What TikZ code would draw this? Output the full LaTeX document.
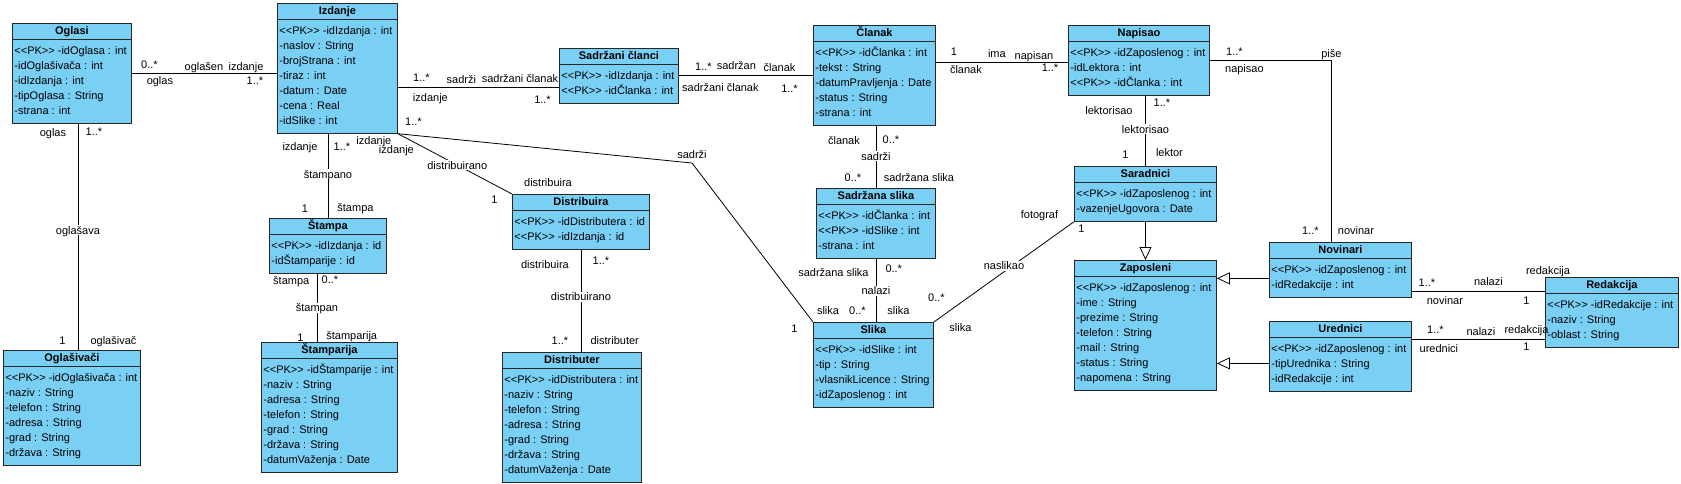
\documentclass[tikz,border=0pt]{standalone}
\usepackage{fontspec}
\usepackage{tikz}
\usetikzlibrary{arrows.meta, shapes.multipart}
\newfontfamily\umlfont{Liberation Sans}
\definecolor{clsblue}{RGB}{122,207,245}
\newcommand{\pk}{<\kern0pt<PK>\kern0pt>}
\newcommand{\ttl}[1]{\smash{\textbf{#1}}\rule{0pt}{7pt}}

\begin{document}
\begin{tikzpicture}[
        x=1pt, y=-1pt,
        font=\umlfont\fontsize{11}{15}\selectfont,
        cls/.style={rectangle split, rectangle split parts=2,
            rectangle split part align={center,left}, align=left,
            draw=black!85, fill=clsblue, line width=0.9pt,
            inner xsep=2pt, inner ysep=4pt, anchor=north west},
        assoc/.style={line width=0.8pt},
        gen/.style={line width=0.8pt, -{Triangle[open, length=13pt, width=12pt]}},
        lbl/.style={inner sep=1pt, text height=8pt, text depth=0pt},
        mid/.style={lbl, fill=white}
    ]
    \useasboundingbox (0,0) rectangle (1681,483);

        % Classes
        \node[cls, minimum width=119pt] (oglasi) at (12,23)
            {\ttl{Oglasi}\nodepart{second}\strut\pk{} -idOglasa : int\\-idOglašivača : int\\-idIzdanja : int\\-tipOglasa : String\\-strana : int\strut};
        \node[cls, minimum width=120pt] (izdanje) at (277,3)
            {\ttl{Izdanje}\nodepart{second}\strut\pk{} -idIzdanja : int\\-naslov : String\\-brojStrana : int\\-tiraz : int\\-datum : Date\\-cena : Real\\-idSlike : int\strut};
        \node[cls, minimum width=119pt] (sclanci) at (559,48)
            {\ttl{Sadržani članci}\nodepart{second}\strut\pk{} -idIzdanja : int\\\pk{} -idČlanka : int\strut};
        \node[cls, minimum width=122pt] (clanak) at (813,25)
            {\ttl{Članak}\nodepart{second}\strut\pk{} -idČlanka : int\\-tekst : String\\-datumPravljenja : Date\\-status : String\\-strana : int\strut};
        \node[cls, minimum width=141pt] (napisao) at (1068,25)
            {\ttl{Napisao}\nodepart{second}\strut\pk{} -idZaposlenog : int\\-idLektora : int\\\pk{} -idČlanka : int\strut};
        \node[cls, minimum width=142pt] (saradnici) at (1074,166)
            {\ttl{Saradnici}\nodepart{second}\strut\pk{} -idZaposlenog : int\\-vazenjeUgovora : Date\strut};
        \node[cls, minimum width=142pt] (zaposleni) at (1074,260)
            {\ttl{Zaposleni}\nodepart{second}\strut\pk{} -idZaposlenog : int\\-ime : String\\-prezime : String\\-telefon : String\\-mail : String\\-status : String\\-napomena : String\strut};
        \node[cls, minimum width=142pt] (novinari) at (1269,242)
            {\ttl{Novinari}\nodepart{second}\strut\pk{} -idZaposlenog : int\\-idRedakcije : int\strut};
        \node[cls, minimum width=142pt] (urednici) at (1269,321)
            {\ttl{Urednici}\nodepart{second}\strut\pk{} -idZaposlenog : int\\-tipUrednika : String\\-idRedakcije : int\strut};
        \node[cls, minimum width=133pt] (redakcija) at (1545,277)
            {\ttl{Redakcija}\nodepart{second}\strut\pk{} -idRedakcije : int\\-naziv : String\\-oblast : String\strut};
        \node[cls, minimum width=119pt] (sslika) at (816,188)
            {\ttl{Sadržana slika}\nodepart{second}\strut\pk{} -idČlanka : int\\\pk{} -idSlike : int\\-strana : int\strut};
        \node[cls, minimum width=120pt] (slika) at (813,322)
            {\ttl{Slika}\nodepart{second}\strut\pk{} -idSlike : int\\-tip : String\\-vlasnikLicence : String\\-idZaposlenog : int\strut};
        \node[cls, minimum width=117pt] (stampa) at (269,218)
            {\ttl{Štampa}\nodepart{second}\strut\pk{} -idIzdanja : id\\-idŠtamparije : id\strut};
        \node[cls, minimum width=136pt] (stamparija) at (261,342)
            {\ttl{Štamparija}\nodepart{second}\strut\pk{} -idŠtamparije : int\\-naziv : String\\-adresa : String\\-telefon : String\\-grad : String\\-država : String\\-datumVaženja : Date\strut};
        \node[cls, minimum width=137pt] (oglasivaci) at (3,350)
            {\ttl{Oglašivači}\nodepart{second}\strut\pk{} -idOglašivača : int\\-naziv : String\\-telefon : String\\-adresa : String\\-grad : String\\-država : String\strut};
        \node[cls, minimum width=137pt] (distribuira) at (512,194)
            {\ttl{Distribuira}\nodepart{second}\strut\pk{} -idDistributera : id\\\pk{} -idIzdanja : id\strut};
        \node[cls, minimum width=139pt] (distributer) at (502,352)
            {\ttl{Distributer}\nodepart{second}\strut\pk{} -idDistributera : int\\-naziv : String\\-telefon : String\\-adresa : String\\-grad : String\\-država : String\\-datumVaženja : Date\strut};

        % Oglasi
        \draw[assoc] (oglasi.east) -- (oglasi.east -| izdanje.west)
            node[lbl, at start, shift={(17.5,-9)}] {0..*}
            node[lbl, at start, shift={(28,7.5)}] {oglas}
            node[lbl, at start, shift={(72,-6.5)}] {oglašen}
            node[lbl, at end, shift={(-31,-7)}] {izdanje}
            node[lbl, at end, shift={(-22,7)}] {1..*};
        \draw[assoc] ([xshift=6pt]oglasi.south) -- ([xshift=6pt]oglasi.south |- oglasivaci.north)
            node[lbl, at start, shift={(-25,8.5)}] {oglas}
            node[lbl, at start, shift={(16,8)}] {1..*}
            node[mid, pos=0.47] {oglašava}
            node[lbl, at end, shift={(-15.5,-10)}] {1}
            node[lbl, at end, shift={(35.5,-9.5)}] {oglašivač};

        % Izdanje
        \coordinate (isc) at ([yshift=-12pt]sclanci.west);
        \draw[assoc] (isc -| izdanje.east) -- (isc)
            node[lbl, at start, shift={(23.5,-10.5)}] {1..*}
            node[lbl, at start, shift={(32.5,9.5)}] {izdanje}
            node[lbl, at start, shift={(63.5,-8.5)}] {sadrži}
            node[lbl, at end, shift={(-39,-9.5)}] {sadržani članak}
            node[lbl, at end, shift={(-16.5,11.5)}] {1..*};
        \draw[assoc] (stampa.north |- izdanje.south) -- (stampa.north)
            node[lbl, at start, shift={(-28,13)}] {izdanje}
            node[lbl, at start, shift={(14,12.7)}] {1..*}
            node[mid, pos=0.48] {štampano}
            node[lbl, at end, shift={(-23,-10)}] {1}
            node[lbl, at end, shift={(27.5,-11)}] {štampa};
        \draw[assoc] (izdanje.south east) -- (distribuira.north west)
            node[lbl, at start, shift={(-24,6.7)}] {izdanje}
            node[mid, pos=0.52] {distribuirano}
            node[lbl, at end, shift={(-17.5,5.7)}] {1}
            node[lbl, at end, shift={(36,-11.5)}] {distribuira};
        \coordinate (bend) at (692,163);
        \draw[assoc] (izdanje.south east)
            -- node[lbl, at start, shift={(15.5,-12)}] {1..*}
               node[lbl, at start, shift={(-1.5,15.7)}] {izdanje}
               node[lbl, at end, shift={(0,-8.5)}] {sadrži} (bend)
            -- node[lbl, at end, shift={(-18.5,6)}] {1}
               node[lbl, at end, shift={(15,-12)}] {slika} (slika.north west);

        % Stampa, Distribuira
        \draw[assoc] ([xshift=-11pt]stampa.south) -- ([xshift=-11pt]stampa.south |- stamparija.north)
            node[lbl, at start, shift={(-25.7,6.5)}] {štampa}
            node[lbl, at start, shift={(13,6)}] {0..*}
            node[mid, pos=0.5] {štampan}
            node[lbl, at end, shift={(-16.5,-5)}] {1}
            node[lbl, at end, shift={(34.8,-6.5)}] {štamparija};
        \draw[assoc] (distribuira.south) -- (distribuira.south |- distributer.north)
            node[lbl, at start, shift={(-36,15)}] {distribuira}
            node[lbl, at start, shift={(20,11)}] {1..*}
            node[mid, pos=0.46] {distribuirano}
            node[lbl, at end, shift={(-21,-12)}] {1..*}
            node[lbl, at end, shift={(33.8,-11.2)}] {distributer};

        % Clanak
        \draw[assoc] (sclanci.east) -- (sclanci.east -| clanak.west)
            node[lbl, at start, shift={(24.5,-9)}] {1..*}
            node[lbl, at start, shift={(57.5,-10.5)}] {sadržan}
            node[lbl, at start, shift={(41.5,11.5)}] {sadržani članak}
            node[lbl, at end, shift={(-33.5,-8)}] {članak}
            node[lbl, at end, shift={(-23.5,13)}] {1..*};
        \coordinate (cn) at ([yshift=-2pt]napisao.west);
        \draw[assoc] (cn -| clanak.east) -- (cn)
            node[lbl, at start, shift={(18,-11)}] {1}
            node[lbl, at start, shift={(61,-8.5)}] {ima}
            node[lbl, at start, shift={(30,7)}] {članak}
            node[lbl, at end, shift={(-34,-7)}] {napisan}
            node[lbl, at end, shift={(-18,5)}] {1..*};
        \draw[assoc] (sslika.north |- clanak.south) -- (sslika.north)
            node[lbl, at start, shift={(-32,14.5)}] {članak}
            node[lbl, at start, shift={(15,13.8)}] {0..*}
            node[mid, pos=0.49] {sadrži}
            node[lbl, at end, shift={(-23,-10.5)}] {0..*}
            node[lbl, at end, shift={(43,-10.8)}] {sadržana slika};
        \draw[assoc] (sslika.south) -- (sslika.south |- slika.north)
            node[lbl, at start, shift={(-42.5,14)}] {sadržana slika}
            node[lbl, at start, shift={(17.8,9.3)}] {0..*}
            node[mid, pos=0.51] {nalazi}
            node[lbl, at end, shift={(-18.5,-12)}] {0..*}
            node[lbl, at end, shift={(22.5,-11.5)}] {slika};

        % Napisao
        \draw[assoc] (napisao.east) -| ([xshift=-9pt]novinari.north)
            node[lbl, at start, shift={(24.5,-9)}] {1..*}
            node[lbl, at start, shift={(34.5,8.5)}] {napisao}
            node[lbl, pos=0.5, shift={(0,-7)}] {piše}
            node[lbl, at end, shift={(-21,-12)}] {1..*}
            node[lbl, at end, shift={(24.5,-12)}] {novinar};
        \draw[assoc] (saradnici.north |- napisao.south) -- (saradnici.north)
            node[lbl, at start, shift={(-36.5,14.5)}] {lektorisao}
            node[lbl, at start, shift={(16.5,6.5)}] {1..*}
            node[mid, pos=0.48] {lektorisao}
            node[lbl, at end, shift={(-20,-12)}] {1}
            node[lbl, at end, shift={(24,-13.5)}] {lektor};

        % Saradnici
        \draw[assoc] (saradnici.south west) -- (slika.north east)
            node[lbl, at start, shift={(-34.5,-7.5)}] {fotograf}
            node[lbl, at start, shift={(7.5,7.2)}] {1}
            node[mid, pos=0.5, shift={(0,-6)}] {naslikao}
            node[lbl, at end, shift={(2.5,-25)}] {0..*}
            node[lbl, at end, shift={(26.5,5.5)}] {slika};

        % Zaposleni
        \draw[gen] (saradnici.south) -- (zaposleni.north);
        \draw[gen] ([yshift=-8.5pt]novinari.west) -- ([yshift=-8.5pt]novinari.west -| zaposleni.east);
        \draw[gen] ([yshift=-7pt]urednici.west) -- ([yshift=-7pt]urednici.west -| zaposleni.east);

        % Redakcija
        \coordinate (nr) at ([yshift=-22pt]novinari.east);
        \draw[assoc] (nr) -- (nr -| redakcija.west)
            node[lbl, at start, shift={(15,-9.7)}] {1..*}
            node[lbl, at start, shift={(76.5,-10.7)}] {nalazi}
            node[lbl, at start, shift={(33,8.5)}] {novinar}
            node[lbl, at end, shift={(3,-21.7)}] {redakcija}
            node[lbl, at end, shift={(-18.5,8.2)}] {1};
        \coordinate (ur) at ([yshift=17pt]urednici.east);
        \draw[assoc] (ur) -- (ur -| redakcija.west)
            node[lbl, at start, shift={(23.5,-9.7)}] {1..*}
            node[lbl, at start, shift={(69,-8)}] {nalazi}
            node[lbl, at start, shift={(27,8.7)}] {urednici}
            node[lbl, at end, shift={(-18.5,-10.2)}] {redakcija}
            node[lbl, at end, shift={(-18.5,7.5)}] {1};

    \end{tikzpicture}
\end{document}
